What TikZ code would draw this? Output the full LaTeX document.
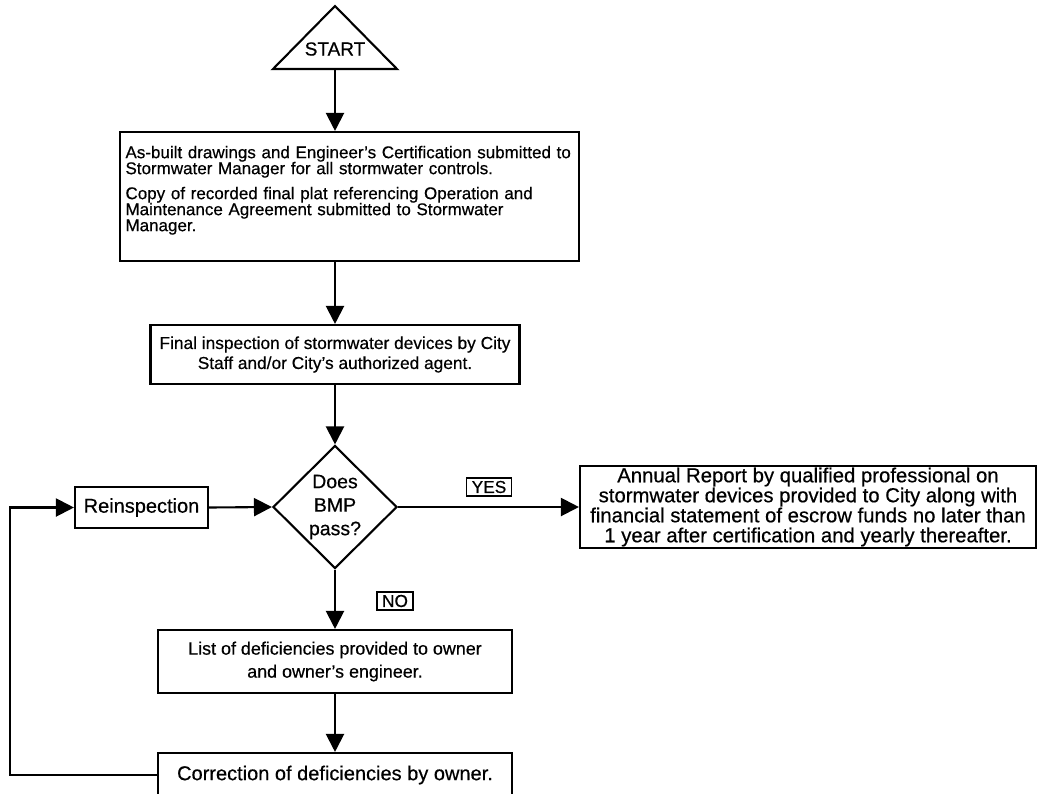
\documentclass[tikz,border=0pt]{standalone}
\usepackage{fontspec}
\setmainfont{Liberation Sans}[UprightFeatures={FakeBold=0.5}]
\usetikzlibrary{shapes.geometric,arrows.meta}

\begin{document}
\begin{tikzpicture}[x=1pt, y=-1pt,
  every node/.style={font=\fontsize{17.3}{20}\selectfont},
  box/.style={draw, line width=2.1pt, rectangle, inner sep=0pt, align=center},
  big/.style={font=\fontsize{20}{20}\selectfont},
  decide/.style={draw, line width=2.1pt, diamond, minimum width=124pt, minimum height=123pt, inner sep=0pt, align=center, font=\fontsize{19.5}{23.5}\selectfont},
  tag/.style={draw, line width=1.6pt, inner xsep=5pt, inner ysep=3pt},
  flow/.style={draw, line width=2.1pt, -{Triangle[length=18pt,width=18pt]}}]
  \useasboundingbox (0,0) rectangle (1044,793);
  % start triangle
  \draw[line width=2.1pt, line join=miter] (273,69) -- (335,6) -- (397,69) -- cycle;
  \node[font=\fontsize{19}{20}\selectfont] (start) at (335,49) {START};
  \coordinate (startbase) at (335,69);
  % main column
  \node[box, align=left, text width=448pt, minimum height=129pt, inner xsep=5.5pt, font=\fontsize{17}{16}\selectfont] (asbuilt) at (349.5,196.5)
    {As-built drawings and Engineer's Certification submitted to\\
     Stormwater Manager for all stormwater controls.\\[9pt]
     Copy of recorded final plat referencing Operation and\\
     Maintenance Agreement submitted to Stormwater\\
     Manager.\rule[-16pt]{0pt}{0pt}};
  \node[box, minimum width=369pt, minimum height=59pt] (inspect) at (335,354.5)
    {Final inspection of stormwater devices by City\\ Staff and/or City's authorized agent.};
  \node[decide] (pass) at (335,507) {Does\\BMP\\pass?};
  \node[box, big, minimum width=133pt, minimum height=41pt] (reinsp) at (141.5,507.5) {Reinspection};
  \node[box, minimum width=456pt, minimum height=82pt, font=\fontsize{20.3}{20}\selectfont] (annual) at (808,507)
    {Annual Report by qualified professional on\\
     stormwater devices provided to City along with\\
     financial statement of escrow funds no later than\\
     1 year after certification and yearly thereafter.};
  \node[box, minimum width=354pt, minimum height=63pt, font=\fontsize{17.9}{23}\selectfont] (deficient) at (335,661.5)
    {List of deficiencies provided to owner\\ and owner's engineer.};
  \node[box, big, minimum width=354pt, minimum height=44pt] (fix) at (335,775) {Correction of deficiencies by owner.};
  \node[tag] (yes) at (489,487) {YES};
  \node[tag] (no) at (395,601) {NO};
  \coordinate (back) at (10,775);
  % connectors
  \draw[flow] (startbase) -- (startbase |- asbuilt.north);
  \draw[flow] (startbase |- asbuilt.south) -- (inspect.north);
  \draw[flow] (inspect.south) -- (pass.north);
  \draw[flow] (pass.east) -- (annual.west);
  \draw[flow] (pass.south) -- (deficient.north);
  \draw[flow] (deficient.south) -- (fix.north);
  \draw[flow] (reinsp.east) -- (pass.west);
  \draw[flow] (fix.west) -- (back) |- (reinsp.west);
\end{tikzpicture}
\end{document}
